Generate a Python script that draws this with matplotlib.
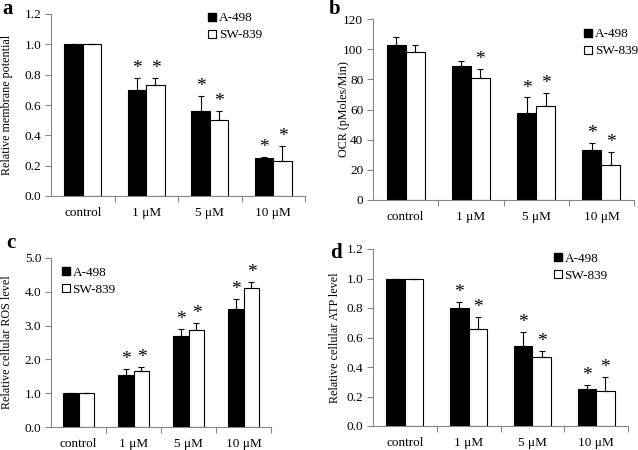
import numpy as np
import matplotlib.pyplot as plt
from matplotlib.lines import Line2D

plt.rcParams['font.family'] = ['Liberation Serif', 'DejaVu Serif']

categories = ['control', '1 μM', '5 μM', '10 μM']
series_names = ['A-498', 'SW-839']

# panel a - membrane potential
a_498 = [1.0, 0.70, 0.56, 0.25]
a_498_err = [0.0, 0.08, 0.10, 0.01]
a_839 = [1.0, 0.73, 0.50, 0.23]
a_839_err = [0.0, 0.05, 0.06, 0.10]
a_star_498 = [False, True, True, True]
a_star_839 = [False, True, True, True]

# panel b - OCR
b_498 = [103, 89, 58, 33]
b_498_err = [5, 3, 10, 5]
b_839 = [98, 81, 62, 23]
b_839_err = [5, 6, 9, 9]
b_star_498 = [False, False, True, True]
b_star_839 = [False, True, True, True]

# panel c - ROS
c_498 = [1.0, 1.55, 2.70, 3.50]
c_498_err = [0.0, 0.18, 0.20, 0.30]
c_839 = [1.0, 1.65, 2.87, 4.10]
c_839_err = [0.0, 0.12, 0.22, 0.20]
c_star_498 = [False, True, True, True]
c_star_839 = [False, True, True, True]

# panel d - ATP
d_498 = [1.0, 0.80, 0.54, 0.25]
d_498_err = [0.0, 0.04, 0.10, 0.03]
d_839 = [1.0, 0.66, 0.47, 0.24]
d_839_err = [0.0, 0.08, 0.04, 0.09]
d_star_498 = [False, True, True, True]
d_star_839 = [False, True, True, True]

GRAY = '#868686'
W = 0.29

fig = plt.figure(figsize=(6.38, 4.5), dpi=100)


def panel(rect, v1, e1, v2, e2, s1, s2, ymax, ystep, fmt, ylabel, letter,
          letter_xy, leg_xy, ylab_x):
    ax = fig.add_axes(rect)
    x = np.arange(len(categories))
    ax.bar(x - W / 2, v1, W, color='black', edgecolor='black', linewidth=0.8)
    ax.bar(x + W / 2, v2, W, color='white', edgecolor='black', linewidth=0.8)
    lo = np.zeros(len(categories))
    ax.errorbar(x - W / 2, v1, yerr=[lo, e1], fmt='none', ecolor='black',
                elinewidth=0.8, capsize=2.5, capthick=0.8)
    ax.errorbar(x + W / 2, v2, yerr=[lo, e2], fmt='none', ecolor='black',
                elinewidth=0.8, capsize=2.5, capthick=0.8)
    off = ymax * 0.005
    for i in range(len(categories)):
        if s1[i]:
            ax.text(x[i] - W / 2, v1[i] + e1[i] + off, '*', ha='center',
                    va='bottom', fontsize=14)
        if s2[i]:
            ax.text(x[i] + W / 2, v2[i] + e2[i] + off, '*', ha='center',
                    va='bottom', fontsize=14)
    ax.set_xlim(-0.5, 3.5)
    ax.set_ylim(0, ymax)
    ticks = np.arange(0, ymax + ystep / 2, ystep)
    ax.set_yticks(ticks)
    ax.set_yticklabels([fmt.format(t) for t in ticks])
    ax.set_xticks(x)
    ax.set_xticklabels(categories)
    ax.set_xticks([0.5, 1.5, 2.5, 3.5], minor=True)
    ax.tick_params(axis='x', which='major', length=0, labelsize=9.5, pad=8)
    ax.tick_params(axis='x', which='minor', length=4, color=GRAY, width=0.8)
    ax.tick_params(axis='y', length=4, color=GRAY, width=0.8, labelsize=9.5,
                   pad=3)
    for s in ['top', 'right']:
        ax.spines[s].set_visible(False)
    for s in ['left', 'bottom']:
        ax.spines[s].set_color(GRAY)
        ax.spines[s].set_linewidth(0.8)
    ax.set_ylabel(ylabel, fontsize=8.7)
    ax.yaxis.set_label_coords(ylab_x, 0.5)
    fig.text(letter_xy[0], letter_xy[1], letter, fontsize=15, fontweight='bold',
             ha='center', va='center')
    handles = [Line2D([], [], marker='s', linestyle='none', markersize=6,
                      markerfacecolor='black', markeredgecolor='black'),
               Line2D([], [], marker='s', linestyle='none', markersize=6,
                      markerfacecolor='white', markeredgecolor='black',
                      markeredgewidth=0.8)]
    ax.legend(handles, series_names, loc='upper left', bbox_to_anchor=leg_xy,
              frameon=False, fontsize=9.5, handlelength=0.6, handletextpad=0.2,
              labelspacing=0.35, borderpad=0, borderaxespad=0)
    return ax


panel([51 / 638, 1 - 196 / 450, 254 / 638, 182 / 450],
      a_498, a_498_err, a_839, a_839_err, a_star_498, a_star_839,
      1.2, 0.2, '{:.1f}', 'Relative membrane potential', 'a',
      (8 / 638, 1 - 9 / 450), (0.62, 1.01), -0.15)

panel([373 / 638, 1 - 200 / 450, 261 / 638, 181 / 450],
      b_498, b_498_err, b_839, b_839_err, b_star_498, b_star_839,
      120, 20, '{:.0f}', 'OCR (pMoles/Min)', 'b',
      (335 / 638, 1 - 9 / 450), (0.81, 0.95), -0.088)

panel([51 / 638, 1 - 427 / 450, 220 / 638, 169 / 450],
      c_498, c_498_err, c_839, c_839_err, c_star_498, c_star_839,
      5.0, 1.0, '{:.1f}', 'Relative cellular ROS level', 'c',
      (11 / 638, 1 - 243 / 450), (0.05, 0.95), -0.173)

panel([373 / 638, 1 - 426 / 450, 255 / 638, 177 / 450],
      d_498, d_498_err, d_839, d_839_err, d_star_498, d_star_839,
      1.2, 0.2, '{:.1f}', 'Relative cellular ATP level', 'd',
      (336 / 638, 1 - 253 / 450), (0.71, 0.98), -0.125)

fig.savefig('out.png', dpi=100)
